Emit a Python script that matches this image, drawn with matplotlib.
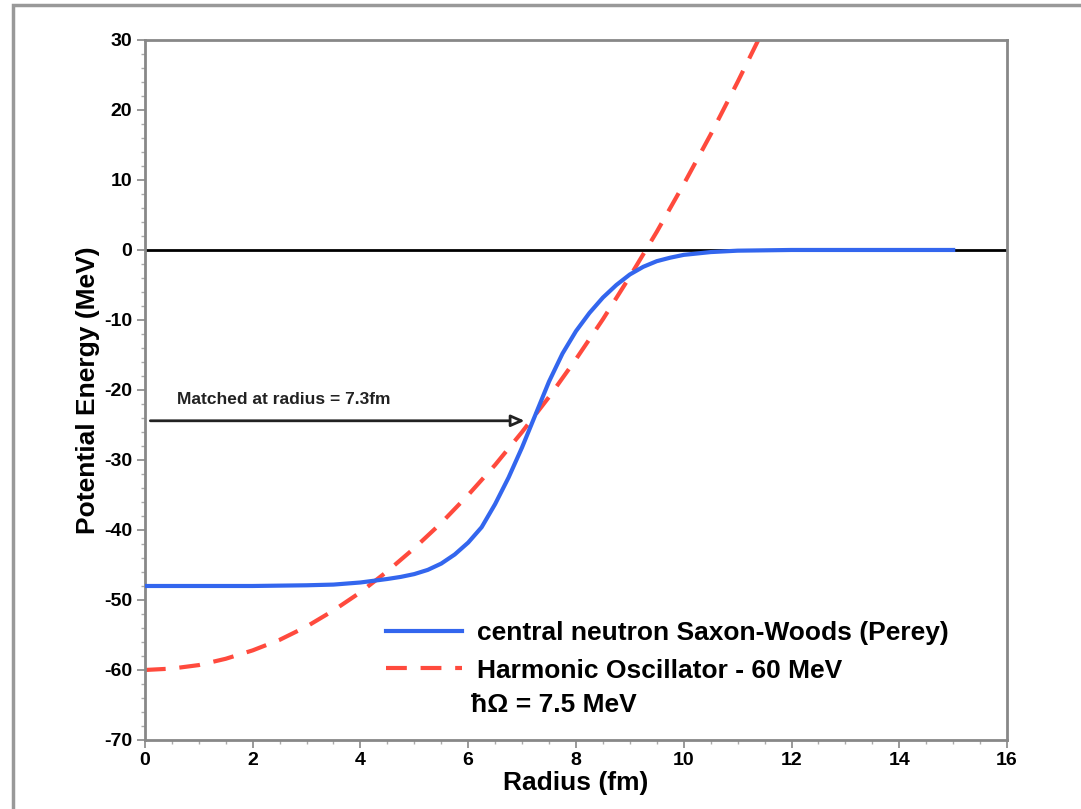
import matplotlib
matplotlib.use("Agg")
import matplotlib.pyplot as plt
from matplotlib.patches import Rectangle
from matplotlib.ticker import MultipleLocator

plt.rcParams['font.family'] = ['Liberation Sans', 'DejaVu Sans']
plt.rcParams['font.weight'] = 'bold'
plt.rcParams['axes.labelweight'] = 'bold'
plt.rcParams['axes.unicode_minus'] = False

# central neutron Saxon-Woods (Perey)
sw_r = [0, 1, 2, 3, 3.5, 4, 4.5, 4.75, 5, 5.25, 5.5, 5.75, 6, 6.25, 6.5, 6.75,
        7, 7.25, 7.5, 7.75, 8, 8.25, 8.5, 8.75, 9, 9.25, 9.5, 9.75, 10, 10.5,
        11, 12, 13, 14, 15]
sw_v = [-48, -48, -48, -47.9, -47.8, -47.5, -47, -46.7, -46.3, -45.7, -44.8,
        -43.5, -41.8, -39.6, -36.3, -32.5, -28.2, -23.5, -18.8, -14.8, -11.6,
        -9, -6.8, -5, -3.5, -2.4, -1.6, -1.1, -0.7, -0.3, -0.1, 0, 0, 0, 0]

# harmonic oscillator - 60 MeV
ho_r = [0, 0.5, 1, 1.5, 2, 2.5, 3, 3.5, 4, 4.5, 5, 5.5, 6, 6.5, 7, 7.5, 8,
        8.5, 9, 9.5, 10, 10.5, 11, 11.5]
ho_v = [-60, -59.8, -59.3, -58.4, -57.2, -55.7, -53.8, -51.5, -48.9, -45.9,
        -42.6, -39.0, -35.0, -30.7, -26.0, -21.0, -15.6, -9.9, -3.8, 2.6,
        9.4, 16.5, 24.0, 31.8]

match_r = 7.1
match_v = -24.4

fig = plt.figure(figsize=(10.81, 8.09), dpi=100)
ax = fig.add_axes([0.134, 0.0853, 0.7976, 0.8653])

ax.axhline(0, color='black', lw=2, zorder=1)
ax.plot(sw_r, sw_v, color='#3366ee', lw=3, label='central neutron Saxon-Woods (Perey)', zorder=3)
ax.plot(ho_r, ho_v, color='#ff4a3d', lw=3, dashes=(5, 3.3),
        label='Harmonic Oscillator - 60 MeV', zorder=2)

ax.annotate('', xy=(match_r, match_v), xytext=(0.05, match_v),
            arrowprops=dict(arrowstyle='-|>,head_length=0.8,head_width=0.35',
                            fc='white', ec='#222222', lw=2))
ax.text(0.6, -22.0, 'Matched at radius = 7.3fm', fontsize=12.5, color='#222222')

ax.set_xlim(0, 16)
ax.set_ylim(-70, 30)
ax.xaxis.set_major_locator(MultipleLocator(2))
ax.xaxis.set_minor_locator(MultipleLocator(0.5))
ax.yaxis.set_major_locator(MultipleLocator(10))
ax.yaxis.set_minor_locator(MultipleLocator(2))
ax.tick_params(which='major', direction='out', length=6, width=1.2, color='#888888',
               labelsize=14, pad=3)
ax.tick_params(which='minor', direction='out', length=3, width=1, color='#aaaaaa')
for s in ax.spines.values():
    s.set_color('#888888')
    s.set_linewidth(2)

ax.set_xlabel('Radius (fm)', fontsize=19, labelpad=1)
ax.set_ylabel('Potential Energy (MeV)', fontsize=19, labelpad=3)

leg = ax.legend(loc='lower left', bbox_to_anchor=(0.252, 0.048), frameon=False,
                fontsize=19, handlelength=2.9, handletextpad=0.55, labelspacing=0.5)
ax.text(6.05, -66.0, 'ħΩ = 7.5 MeV', fontsize=19)

fig.patches.append(Rectangle((13 / 1081, -0.1), 1.2, 1.1 - 5 / 809, transform=fig.transFigure,
                             fill=False, ec='#999999', lw=2.5, clip_on=False))

fig.savefig('out.png', dpi=100)
